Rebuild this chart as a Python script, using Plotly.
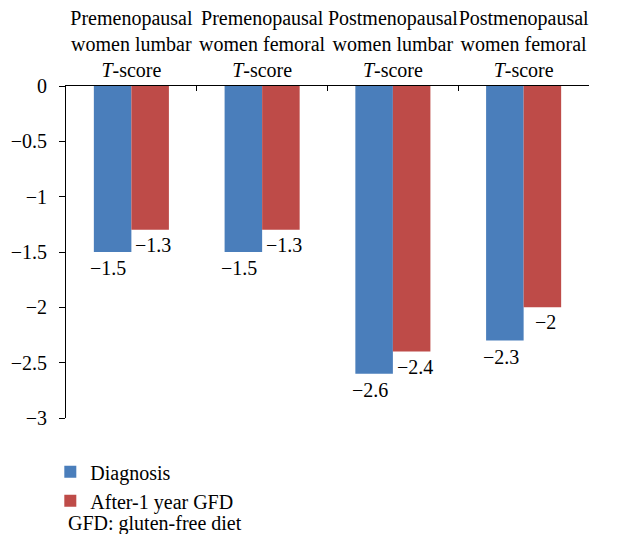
import plotly.graph_objects as go

categories = [
    "Premenopausal<br>women lumbar<br><i>T</i>-score",
    "Premenopausal<br>women femoral<br><i>T</i>-score",
    "Postmenopausal<br>women lumbar<br><i>T</i>-score",
    "Postmenopausal<br>women femoral<br><i>T</i>-score",
]
diagnosis = [-1.5, -1.5, -2.6, -2.3]
after_gfd = [-1.3, -1.3, -2.4, -2.0]
series_names = ["Diagnosis", "After-1 year GFD"]
y_ticks = [0, -0.5, -1, -1.5, -2, -2.5, -3]
note = "GFD: gluten-free diet"

FONT = "Liberation Serif"
BLUE = "#4A7EBB"
RED = "#BE4B48"

fig = go.Figure()
fig.add_trace(go.Bar(x=categories, y=diagnosis, name=series_names[0],
                     marker=dict(color=BLUE, line=dict(width=0))))
fig.add_trace(go.Bar(x=categories, y=after_gfd, name=series_names[1],
                     marker=dict(color=RED, line=dict(width=0))))

def fmt(v):
    s = ("%g" % abs(v))
    return ("\u2212" + s) if v < 0 else s

annotations = []
for cat, v in zip(categories, diagnosis):
    annotations.append(dict(x=cat, y=v, xref="x", yref="y", text=fmt(v),
                            showarrow=False, xanchor="center", yanchor="middle",
                            xshift=-23, yshift=-16,
                            font=dict(family=FONT, size=20, color="black")))
for cat, v in zip(categories, after_gfd):
    annotations.append(dict(x=cat, y=v, xref="x", yref="y", text=fmt(v),
                            showarrow=False, xanchor="center", yanchor="middle",
                            xshift=22, yshift=-15,
                            font=dict(family=FONT, size=20, color="black")))
annotations.append(dict(x=0, y=-0.318, xref="paper", yref="paper", text=note,
                        showarrow=False, xanchor="left", yanchor="middle",
                        font=dict(family=FONT, size=20, color="black")))

fig.update_layout(
    width=612, height=526,
    margin=dict(l=58, r=31, t=78, b=115.5, autoexpand=False),
    paper_bgcolor="white", plot_bgcolor="white",
    barmode="group", bargap=0.426, bargroupgap=0,
    font=dict(family=FONT, size=20, color="black"),
    showlegend=True,
    legend=dict(orientation="v", x=-0.03, xanchor="left", y=-0.103, yanchor="top",
                font=dict(family=FONT, size=20, color="black"),
                bgcolor="rgba(0,0,0,0)", traceorder="normal", itemclick=False),
    annotations=annotations,
)
fig.update_xaxes(
    side="top", type="category", showline=True, linecolor="black", linewidth=1,
    ticks="inside", ticklen=5, tickcolor="black", tickson="boundaries",
    tickangle=0, showgrid=False, zeroline=False,
    tickfont=dict(family=FONT, size=20, color="black"),
)
fig.update_yaxes(
    range=[-3, 0], tickvals=y_ticks, ticktext=[fmt(t) for t in y_ticks],
    showline=True, linecolor="black", linewidth=1,
    ticks="outside", ticklen=6, tickcolor="black", ticklabelstandoff=8,
    showgrid=False, zeroline=False,
    tickfont=dict(family=FONT, size=20, color="black"),
)

fig.write_html("out.html")
